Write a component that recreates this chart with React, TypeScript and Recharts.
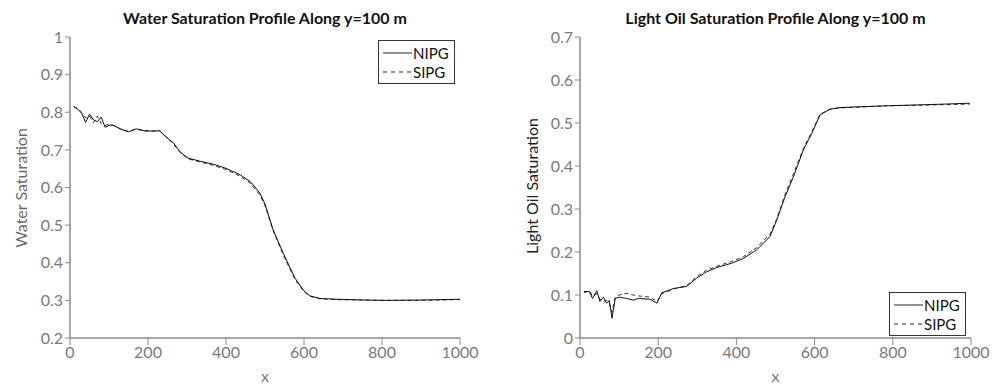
import { LineChart, Line, XAxis, YAxis, Label } from "recharts";

const waterX = [10, 20, 30, 40, 50, 60, 70, 80, 90, 100, 110, 130, 150, 170, 190, 210, 230, 245, 265, 282, 303, 333, 367, 400, 436, 462, 487, 500, 521, 547, 577, 600, 615, 641, 684, 750, 812, 900, 1000];
const waterNipg = [0.815, 0.808, 0.797, 0.773, 0.795, 0.78, 0.775, 0.787, 0.76, 0.765, 0.766, 0.755, 0.748, 0.756, 0.751, 0.75, 0.751, 0.735, 0.719, 0.695, 0.678, 0.67, 0.662, 0.651, 0.634, 0.616, 0.585, 0.556, 0.487, 0.425, 0.359, 0.325, 0.312, 0.305, 0.303, 0.301, 0.3, 0.301, 0.303];
const waterSipg = [0.815, 0.81, 0.8, 0.785, 0.79, 0.772, 0.79, 0.77, 0.765, 0.768, 0.765, 0.756, 0.749, 0.755, 0.75, 0.75, 0.75, 0.737, 0.716, 0.693, 0.676, 0.668, 0.659, 0.648, 0.63, 0.612, 0.58, 0.552, 0.485, 0.42, 0.355, 0.323, 0.311, 0.304, 0.302, 0.301, 0.3, 0.3, 0.302];

const oilX = [10, 24, 32, 43, 51, 60, 68, 75, 82, 90, 100, 119, 136, 149, 179, 197, 209, 239, 273, 298, 324, 350, 388, 418, 452, 486, 503, 525, 546, 571, 593, 614, 639, 665, 784, 900, 997];
const oilNipg = [0.108, 0.108, 0.092, 0.11, 0.085, 0.095, 0.081, 0.087, 0.046, 0.092, 0.095, 0.092, 0.088, 0.092, 0.09, 0.081, 0.105, 0.115, 0.12, 0.139, 0.154, 0.164, 0.174, 0.185, 0.205, 0.236, 0.274, 0.33, 0.375, 0.437, 0.476, 0.519, 0.532, 0.536, 0.54, 0.543, 0.546];
const oilSipg = [0.105, 0.11, 0.097, 0.103, 0.09, 0.085, 0.088, 0.08, 0.06, 0.095, 0.1, 0.104, 0.1, 0.098, 0.095, 0.085, 0.103, 0.114, 0.122, 0.142, 0.158, 0.167, 0.178, 0.189, 0.21, 0.242, 0.276, 0.335, 0.382, 0.44, 0.48, 0.52, 0.532, 0.535, 0.54, 0.542, 0.544];

const xTicks = [0, 200, 400, 600, 800, 1000];
const waterTicks = [0.2, 0.3, 0.4, 0.5, 0.6, 0.7, 0.8, 0.9, 1];
const oilTicks = [0, 0.1, 0.2, 0.3, 0.4, 0.5, 0.6, 0.7];

const FONT = "Lato, 'DejaVu Sans', sans-serif";
const AXIS = "#8a8a8a";
const TICK = { fill: "#7a7a7a", fontSize: 16, fontFamily: FONT };

function build(xs: number[], a: number[], b: number[]) {
  return xs.map((x, i) => ({ x, nipg: a[i], sipg: b[i] }));
}

function LegendBox(props: { left: number; top: number }) {
  return (
    <div style={{ position: "absolute", left: props.left, top: props.top, border: "1px solid #333", background: "#fff", width: 77, height: 44, boxSizing: "border-box", fontFamily: FONT, fontSize: 15, color: "#111", padding: "2px 0 0 4px" }}>
      <div style={{ display: "flex", alignItems: "center", height: 19 }}>
        <svg width={30} height={10}><line x1={0} y1={5} x2={29} y2={5} stroke="#222" strokeWidth={1} /></svg>
        <span>NIPG</span>
      </div>
      <div style={{ display: "flex", alignItems: "center", height: 19 }}>
        <svg width={30} height={10}><line x1={0} y1={5} x2={29} y2={5} stroke="#222" strokeWidth={1} strokeDasharray="4 4" /></svg>
        <span>SIPG</span>
      </div>
    </div>
  );
}

function Profile(props: {
  left: number;
  width: number;
  marginRight: number;
  title: string;
  yLabel: string;
  yLabelX: number;
  yLabelY: number;
  yLabelColor: string;
  data: { x: number; nipg: number; sipg: number }[];
  yDomain: [number, number];
  yTicks: number[];
  legendPos: { left: number; top: number };
}) {
  const { left, width, marginRight, title, yLabel, yLabelX, yLabelY, yLabelColor, data, yDomain, yTicks, legendPos } = props;
  const plotCenter = 70 + (width - 70 - marginRight) / 2;
  return (
    <div style={{ position: "absolute", left, top: 0, width, height: 384 }}>
      <LineChart width={width} height={384} data={data} margin={{ top: 37, right: marginRight, bottom: 0, left: 0 }}>
        <XAxis
          dataKey="x"
          type="number"
          domain={[0, 1000]}
          ticks={xTicks}
          tickSize={7}
          tickLine={{ stroke: AXIS }}
          axisLine={{ stroke: AXIS, strokeWidth: 1.5 }}
          tick={TICK}
          interval={0}
          height={46}
        >
          <Label value="x" position="insideBottom" offset={2} style={{ fill: "#7a7a7a", fontSize: 16, fontFamily: FONT }} />
        </XAxis>
        <YAxis
          type="number"
          domain={yDomain}
          ticks={yTicks}
          width={70}
          tickSize={5}
          tickLine={{ stroke: AXIS }}
          axisLine={{ stroke: AXIS, strokeWidth: 1.5 }}
          tick={TICK}
          interval={0}
          tickFormatter={(v: number) => String(Math.round(v * 10) / 10)}
        >
          <Label
            content={() => (
              <text x={yLabelX} y={yLabelY} transform={`rotate(-90 ${yLabelX} ${yLabelY})`} textAnchor="middle" dominantBaseline="central" fill={yLabelColor} fontSize={16} fontFamily={FONT}>
                {yLabel}
              </text>
            )}
          />
        </YAxis>
        <Line dataKey="sipg" name="SIPG" stroke="#333" strokeWidth={1} strokeDasharray="4 3" dot={false} isAnimationActive={false} />
        <Line dataKey="nipg" name="NIPG" stroke="#111" strokeWidth={1} dot={false} isAnimationActive={false} />
      </LineChart>
      <div style={{ position: "absolute", left: 0, width: plotCenter * 2, top: 8, textAlign: "center", fontFamily: FONT, fontWeight: 700, fontSize: 16, color: "#111" }}>
        {title}
      </div>
      <LegendBox left={legendPos.left} top={legendPos.top} />
    </div>
  );
}

export default function App() {
  return (
    <div style={{ position: "absolute", left: 0, top: 0, width: 1003, height: 384, background: "#fff" }}>
      <Profile
        left={0}
        width={500}
        marginRight={40}
        title="Water Saturation Profile Along y=100 m"
        yLabel="Water Saturation"
        yLabelX={20}
        yLabelY={188}
        yLabelColor="#6a6a6a"
        data={build(waterX, waterNipg, waterSipg)}
        yDomain={[0.2, 1]}
        yTicks={waterTicks}
        legendPos={{ left: 378, top: 40 }}
      />
      <Profile
        left={510}
        width={493}
        marginRight={32}
        title="Light Oil Saturation Profile Along y=100 m"
        yLabel="Light Oil Saturation"
        yLabelX={21}
        yLabelY={186}
        yLabelColor="#222"
        data={build(oilX, oilNipg, oilSipg)}
        yDomain={[0, 0.7]}
        yTicks={oilTicks}
        legendPos={{ left: 379, top: 292 }}
      />
    </div>
  );
}
